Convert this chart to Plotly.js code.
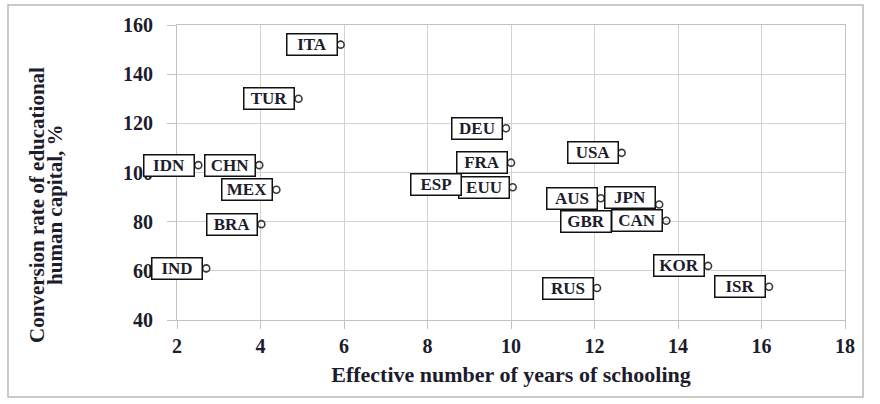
<!DOCTYPE html>
<html>
<head>
<meta charset="utf-8">
<script src="https://cdn.plot.ly/plotly-3.0.1.min.js"></script>
<style>html,body{margin:0;padding:0;background:#fff;}#chart{width:880px;height:404px;}</style>
</head>
<body>
<div id="chart"></div>
<script>
// Data
const countries = ["ITA","TUR","IDN","CHN","MEX","BRA","IND","DEU","USA","FRA","EUU","ESP","AUS","JPN","GBR","CAN","RUS","KOR","ISR"];
const years     = [5.92, 4.91, 2.51, 3.97, 4.38, 4.02, 2.70, 9.88, 12.65, 10.0, 10.04, 8.90, 12.15, 13.55, 12.49, 13.72, 12.06, 14.72, 16.18];
const conversion= [152, 130, 103, 103, 93, 79, 61, 118, 108, 104, 94, 95, 89.5, 87, 80, 80.4, 53, 62, 53.5];
const xTicks = [2,4,6,8,10,12,14,16,18];
const yTicks = [40,60,80,100,120,140,160];
const xTitle = "Effective number of years of schooling";
const yTitleLines = ["Conversion rate of educational", "human capital, %"];

// Label placement style (pixel nudges, as dragged in the original)
const labelNudgeY = {JPN: 7};

const serif = "'Liberation Serif', 'Times New Roman', serif";
const textCol = "#1c1c2c";

const trace = {
  type: "scatter",
  mode: "markers",
  x: years,
  y: conversion,
  text: countries,
  marker: {symbol: "circle-open", size: 7, color: "#3a3a3a", line: {width: 1.6, color: "#3a3a3a"}},
  hoverinfo: "text+x+y",
  showlegend: false
};

const labelAnnotations = countries.map((c, i) => ({
  x: years[i], y: conversion[i], xref: "x", yref: "y",
  text: c, showarrow: false,
  xanchor: "right", yanchor: "middle", xshift: -3, yshift: labelNudgeY[c] || 0,
  font: {family: serif, size: 17, color: textCol, weight: "bold"},
  bgcolor: "#ffffff", bordercolor: "#111111", borderwidth: 1.5, borderpad: 1,
  width: 47, height: 18
}));

const yTitleX = [-0.2096, -0.1826];
const yTitleAnnotations = yTitleLines.map((t, i) => ({
  xref: "paper", yref: "paper", x: yTitleX[i], y: 0.39,
  xanchor: "center", yanchor: "middle", textangle: -90,
  text: t, showarrow: false,
  font: {family: serif, size: 21, color: textCol, weight: "bold"}
}));

const layout = {
  width: 880, height: 404,
  margin: {l: 177, r: 35, t: 25, b: 84},
  paper_bgcolor: "#ffffff", plot_bgcolor: "#ffffff",
  font: {family: serif, color: textCol},
  xaxis: {
    range: [2, 18], tickvals: xTicks, ticktext: xTicks.map(String),
    showgrid: true, gridcolor: "#d6d1d1", gridwidth: 1,
    showline: true, linecolor: "#c6c1c1", linewidth: 1, mirror: true,
    ticks: "outside", ticklen: 8, tickcolor: "#c6c1c1",
    zeroline: false,
    tickfont: {family: serif, size: 20, color: textCol, weight: "bold"},
    title: {text: xTitle, font: {family: serif, size: 22, color: textCol, weight: "bold"}, standoff: 10}
  },
  yaxis: {
    range: [40, 160], tickvals: yTicks, ticktext: yTicks.map(String),
    showgrid: true, gridcolor: "#d6d1d1", gridwidth: 1,
    showline: true, linecolor: "#c6c1c1", linewidth: 1, mirror: true,
    ticks: "outside", ticklen: 9, tickcolor: "#c6c1c1",
    ticklabelstandoff: 10,
    zeroline: false,
    tickfont: {family: serif, size: 20, color: textCol, weight: "bold"}
  },
  annotations: labelAnnotations.concat(yTitleAnnotations),
  shapes: [{
    type: "rect", xref: "paper", yref: "paper",
    x0: -0.253, x1: 1.027, y0: -0.261, y1: 1.068,
    line: {color: "#bdb8b8", width: 1.5}, fillcolor: "rgba(0,0,0,0)", layer: "below"
  }]
};

Plotly.newPlot("chart", [trace], layout, {staticPlot: true, displayModeBar: false});
</script>
</body>
</html>
